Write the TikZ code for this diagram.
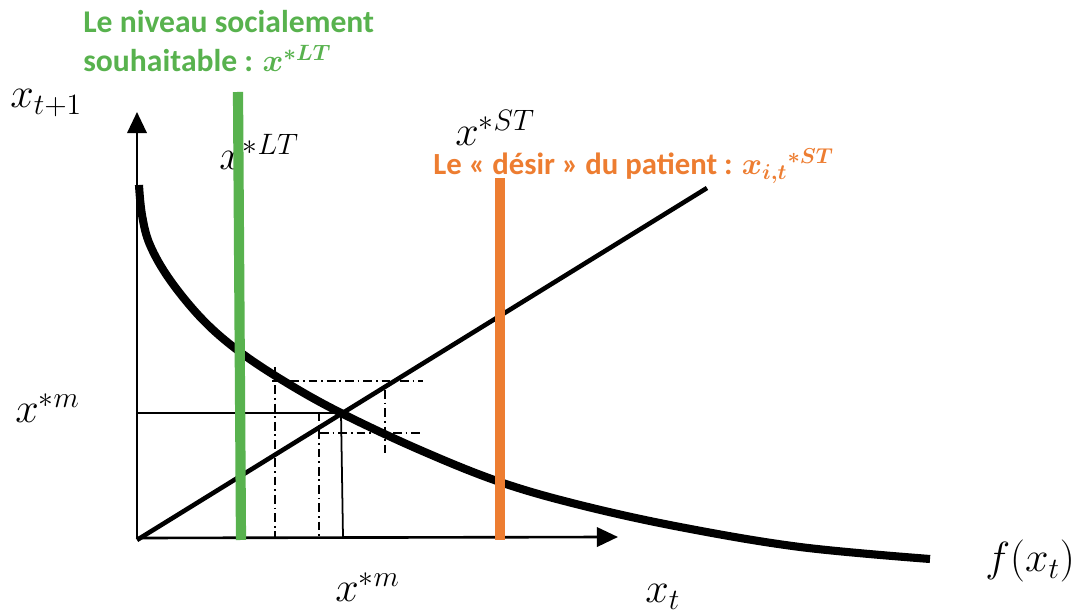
\RequirePackage{fix-cm}
\documentclass[tikz,border=0pt]{standalone}
\usepackage{amsmath,bm}
\usepackage[no-math]{fontspec}
\setmainfont{Carlito}
\usetikzlibrary{arrows.meta}
\definecolor{vert}{RGB}{88,178,78}
\definecolor{myorange}{RGB}{237,125,49}
\begin{document}
\begin{tikzpicture}[x=0.02cm,y=-0.02cm,
  axis/.style={line width=1.5pt,-{Triangle[length=12pt,width=11pt]}},
  thickcurve/.style={line width=4.6pt},
  diag/.style={line width=2.6pt},
  thinline/.style={line width=1pt},
  dashdot/.style={line width=0.9pt,dash pattern=on 5pt off 2.2pt on 1pt off 2.2pt},
  bar/.style={line width=5.8pt},
  mathlbl/.style={font=\fontsize{24}{28}\selectfont,inner sep=0pt,anchor=base west},
  title/.style={font=\fontsize{17.5}{21.5}\selectfont\bfseries,inner sep=0pt,anchor=base west},
  gtitle/.style={title,font=\fontsize{18}{22}\selectfont\bfseries}]
\useasboundingbox (0,0) rectangle (1083,614);
% key points
\coordinate (O) at (137,538);
\coordinate (Ytip) at (137,112);
\coordinate (Xtip) at (618,537);
\coordinate (D0) at (137,540);
\coordinate (D1) at (707,188);
\coordinate (E) at (341,413);
\coordinate (Ey) at (137,413);
\coordinate (Ex) at (343,537);
% label under the green bar
\node[mathlbl] (lxlt) at (219,170) {$x^{*LT}$};
% axes
\draw[axis] (O) -- (Ytip);
\draw[axis] (O) -- (Xtip);
% equilibrium lines
\draw[thinline] (Ey) -- (E) -- (Ex);
% dash-dot construction
\coordinate (a1) at (275,367); \coordinate (a2) at (275,537);
\coordinate (b1) at (272,381); \coordinate (b2) at (423,381);
\coordinate (c1) at (385,390); \coordinate (c2) at (385,453);
\coordinate (d1) at (320,433); \coordinate (d2) at (423,433);
\coordinate (e1) at (319,412); \coordinate (e2) at (319,537);
\draw[dashdot] (a1) -- (a2);
\draw[dashdot] (b1) -- (b2);
\draw[dashdot] (c1) -- (c2);
\draw[dashdot] (d1) -- (d2);
\draw[dashdot] (e1) -- (e2);
% 45 degree line
\draw[diag] (D0) -- (D1);
% curve f(x_t)
\draw[thickcurve] plot[smooth,tension=0.6] coordinates {(139,185) (142,215) (150,245) (170,280) (203,320) (240,352) (287,383) (341,413) (420,450) (500,482) (580,505) (680,527) (800,547) (930,559)};
% vertical bars
\coordinate (g1) at (238,92); \coordinate (g2) at (241,540);
\coordinate (o1) at (500,178); \coordinate (o2) at (500,540);
\draw[bar,vert] (g1) -- (g2);
\draw[bar,myorange] (o1) -- (o2);
% labels
\node[mathlbl] (lxt1) at (10,108) {$x_{t+1}$};
\node[mathlbl] (lxmL) at (15,423) {$x^{*m}$};
\node[mathlbl] (lxmB) at (335,602) {$x^{*m}$};
\node[mathlbl] (lxt) at (645,603) {$x_t$};
\node[mathlbl] (lfx) at (985,572) {$f(x_t)$};
\node[mathlbl] (lxst) at (455,146) {$x^{*ST}$};
\node[gtitle,text=vert] (tg1) at (83,33) {Le niveau socialement};
\node[gtitle,text=vert] (tg2) at (83,72) {souhaitable : $\bm{x}^{\bm{*LT}}$};
\node[title,text=myorange] (to) at (433,175) {Le « désir » du patient : $\bm{x}_{\bm{i,t}}{}^{\bm{*ST}}$};
\end{tikzpicture}
\end{document}
